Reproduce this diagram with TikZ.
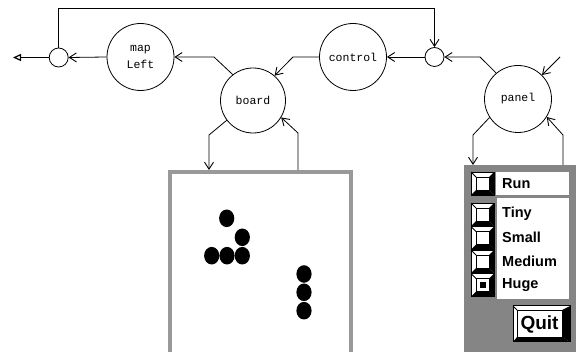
\documentclass[tikz,border=0pt]{standalone}
\usepackage{fontspec}
\setmainfont{Liberation Sans}
\newfontfamily\courfont{Liberation Mono}
\usetikzlibrary{arrows.meta}
\tikzset{
  proc/.style={circle, draw, line width=0.8pt, inner sep=0pt, minimum size=67pt,
    font=\courfont\fontsize{11.5}{16.5}\selectfont, align=center},
  junc/.style={circle, draw, line width=0.8pt, inner sep=0pt, minimum size=19pt},
  conn/.style={line width=0.8pt, -{Straight Barb[length=7pt,width=9pt,line width=0.9pt]}},
  outconn/.style={line width=0.8pt, -{Triangle[open,length=8pt,width=7pt,line width=1.2pt]}},
  lbl/.style={font=\bfseries\fontsize{14.5}{16}\selectfont, anchor=west, inner sep=0pt},
  btn/.pic={
    \filldraw[fill=white, draw=black, line width=0.8pt] (0,0) rectangle (23,23);
    \fill[black] (0,23) -- (23,23) -- (18,18) -- (5,18) -- cycle;
    \fill[black] (23,0) -- (23,23) -- (18,18) -- (18,5) -- cycle;
    \draw[line width=0.8pt] (0,0) -- (5,5);
    \filldraw[fill=white, draw=black, line width=0.8pt] (5,5) rectangle (18,18);
  },
  btnon/.pic={
    \pic {btn};
    \fill[black] (8.5,8.5) rectangle (14.5,14.5);
  }
}
\begin{document}
\begin{tikzpicture}[x=1pt,y=-1pt]
\useasboundingbox (0,0) rectangle (576,352);
\fill[white] (0,0) rectangle (576,352);

% processes
\node[proc] (mapL) at (140.5,57) {map\\Left};
\node[proc] (control) at (353,57) {control};
\node[proc, minimum size=65pt] (board) at (253,100.5) {board};
\node[proc] (panel) at (518,99) {panel};
\node[junc] (jl) at (58.7,57.5) {};
\node[junc] (jr) at (434.5,57) {};
\coordinate (out) at (13,57.5);
\coordinate (ext) at (560,57);

% board window
\filldraw[draw=black!40, fill=white, line width=4pt] (170,172) rectangle (351,362);
\coordinate (bwin) at (209,170);
\coordinate (bwout) at (298,170);
\foreach \p in {(226.7,218.3),(242.3,237.3),(211.7,255.7),(227,255.7),(242.3,255.7),(304,274),(304,292.3),(304,310.7)}
  \fill \p ellipse [x radius=7.6pt, y radius=8.8pt];

% panel window
\fill[black!48] (464,165) rectangle (576,352);
\coordinate (pwin) at (473,165);
\coordinate (pwout) at (563,165);
\fill[white] (496,172) rectangle (569,195);
\fill[white] (497,198) rectangle (569,299);
\pic at (471,172) {btn};
\pic at (471,203) {btn};
\pic at (471,226.5) {btn};
\pic at (471,250) {btn};
\pic at (471,273.5) {btnon};
\node[lbl] (run) at (502,183.5) {Run};
\node[lbl] (tiny) at (502,213.5) {Tiny};
\node[lbl] (small) at (502,237.5) {Small};
\node[lbl] (medium) at (502,261.5) {Medium};
\node[lbl] (huge) at (502,285.5) {Huge};
% quit button
\filldraw[fill=white, draw=black, line width=1pt] (513,306) rectangle (570,342);
\fill[black] (513,342) -- (570,342) -- (562,337) -- (517,337) -- cycle;
\fill[black] (570,306) -- (570,342) -- (562,337) -- (562,310) -- cycle;
\draw[line width=0.8pt] (513,306) -- (517,310);
\filldraw[fill=white, draw=black, line width=0.8pt] (517,310) rectangle (562,337);
\node[font=\bfseries\fontsize{19}{20}\selectfont, inner sep=0pt] (quit) at (539.5,324) {Quit};

% connectors
\draw[conn] (jl.north) -- (58.7,8) -- (434.5,8) -- (jr.north);
\draw[conn] (mapL.west) -- (jl.east);
\draw[outconn] (jl.west) -- (out);
\draw[conn] (jr.west) -- (control.east);
\draw[conn] (panel.130) -- (480,57) -- (jr.east);
\draw[conn] (ext) -- (panel.45);
\draw[conn] (board.128) -- (214,57) -- (mapL.east);
\draw[conn] (control.west) -- (293,57) -- (board.49);
\draw[conn] (board.217) -- (209,135) -- (bwin);
\draw[conn] (bwout) -- (298,133) -- (board.-31);
\draw[conn] (panel.213) -- (473,135) -- (pwin);
\draw[conn] (pwout) -- (563,135) -- (panel.-32);
\end{tikzpicture}
\end{document}
